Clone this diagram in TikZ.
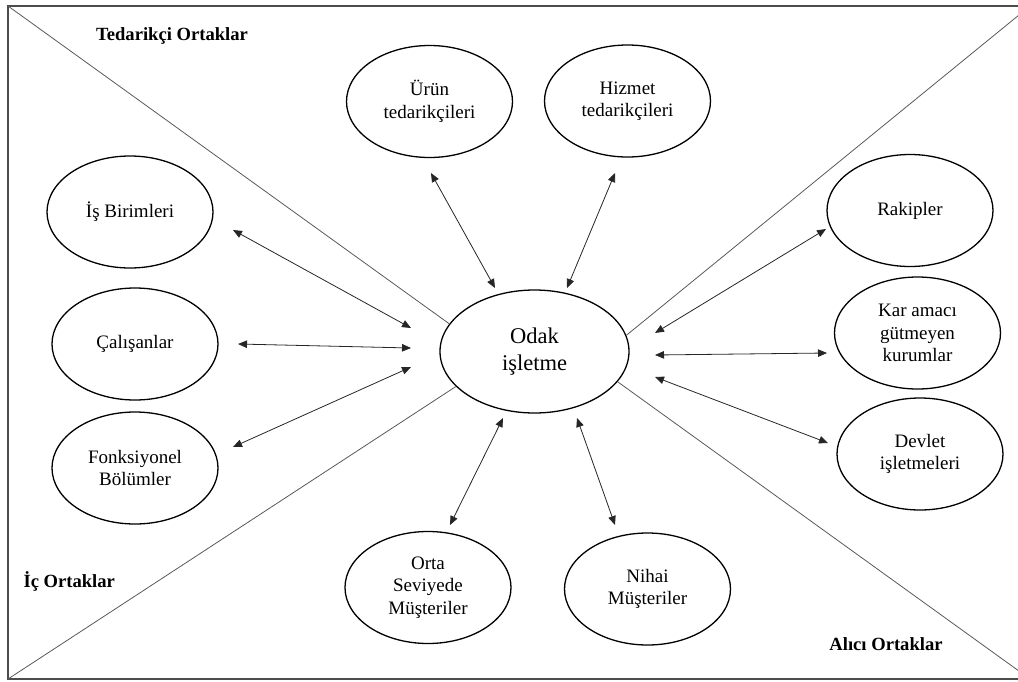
\documentclass[tikz,border=0pt]{standalone}
\usepackage{fontspec}
\setmainfont{Liberation Serif}
\usetikzlibrary{shapes.geometric,arrows.meta}

\begin{document}
\begin{tikzpicture}[x=1pt,y=-1pt,
  party/.style={ellipse,draw=black,line width=1.3pt,minimum width=166pt,minimum height=112pt,
    inner sep=0pt,align=center,font=\fontsize{19}{22.5}\selectfont},
  focal/.style={party,minimum width=189pt,minimum height=123pt,font=\fontsize{22.5}{26.5}\selectfont},
  zone/.style={font=\bfseries\fontsize{18.6}{22}\selectfont},
  frameline/.style={draw=black!70,line width=1.4pt},
  divider/.style={draw=black!65,line width=0.8pt},
  link/.style={draw=black!85,line width=0.8pt,{Triangle[length=9pt,width=7.5pt]}-{Triangle[length=9pt,width=7.5pt]}}]

\useasboundingbox (0,0) rectangle (1018,681);

% outer frame and its corners
\coordinate (tl) at (8,6);
\coordinate (tr) at (1030,6);
\coordinate (bl) at (8,679);
\coordinate (br) at (1030,679);
\draw[frameline] (tl) rectangle (br);

% focal firm
\node[focal] (odak) at (534.5,351.5) {Odak\\işletme};

% dividing diagonals
\draw[divider] (tl) -- (odak.162);
\draw[divider] (bl) -- (odak.204);
\draw[divider] (tr) -- (odak.10);
\draw[divider] (br) -- (odak.340);

% zone titles
\node[zone] (tedz) at (172,36) {Tedarikçi Ortaklar};
\node[zone,anchor=west] (icz) at (20,581) {İç Ortaklar};
\node[zone] (alz) at (886,644) {Alıcı Ortaklar};

% partners
\node[party] (urun) at (429.5,101.5) {Ürün\\tedarikçileri};
\node[party] (hizmet) at (627.5,101) {Hizmet\\tedarikçileri};
\node[party] (is) at (130,212) {İş Birimleri};
\node[party] (cal) at (135,344) {Çalışanlar};
\node[party] (fonk) at (135,468) {Fonksiyonel\\Bölümler};
\node[party] (rakip) at (910,210.5) {Rakipler};
\node[party] (kar) at (917.5,333) {Kar amacı\\gütmeyen\\kurumlar};
\node[party] (devlet) at (920,454) {Devlet\\işletmeleri};
\node[party] (orta) at (428,587.5) {Orta\\Seviyede\\Müşteriler};
\node[party] (nihai) at (647.5,589) {Nihai\\Müşteriler};

% arrow end points
\coordinate (isA) at (233,230);   \coordinate (isB) at (411,328);
\coordinate (calA) at (238,344);  \coordinate (calB) at (411,348);
\coordinate (fonkA) at (233,447); \coordinate (fonkB) at (411,367);
\coordinate (urunA) at (431,173); \coordinate (urunB) at (495,288);
\coordinate (hizA) at (615,173);  \coordinate (hizB) at (567,288);
\coordinate (rakA) at (655,333);  \coordinate (rakB) at (826,229);
\coordinate (karA) at (655,355);  \coordinate (karB) at (827,353);
\coordinate (devA) at (655,377);  \coordinate (devB) at (828,443);
\coordinate (ortA) at (450,525);  \coordinate (ortB) at (503,418);
\coordinate (nihA) at (577,418);  \coordinate (nihB) at (615,525);

% two-way relations
\draw[link] (isA) -- (isB);
\draw[link] (calA) -- (calB);
\draw[link] (fonkA) -- (fonkB);
\draw[link] (urunA) -- (urunB);
\draw[link] (hizA) -- (hizB);
\draw[link] (rakA) -- (rakB);
\draw[link] (karA) -- (karB);
\draw[link] (devA) -- (devB);
\draw[link] (ortA) -- (ortB);
\draw[link] (nihA) -- (nihB);
\end{tikzpicture}
\end{document}
